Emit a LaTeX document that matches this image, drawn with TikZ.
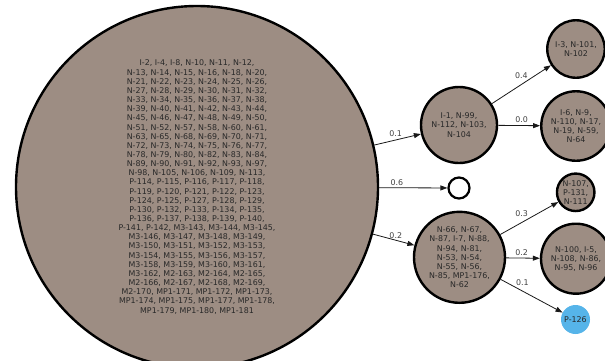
\documentclass[tikz,border=0pt]{standalone}
\usepackage{fontspec}
\newfontfamily\dvfont{DejaVu Sans}
\usetikzlibrary{arrows.meta}
\definecolor{nodefill}{RGB}{157,141,131}
\definecolor{bluefill}{RGB}{86,180,233}
\definecolor{txt}{RGB}{40,40,40}
\tikzset{
  grp/.style={circle, draw=black, line width=2.4pt, fill=nodefill, inner sep=0pt, align=center,
    text=txt, font=\dvfont\fontsize{7.9}{9.15}\selectfont},
  emptynode/.style={circle, draw=black, line width=2.2pt, fill=white, inner sep=0pt, minimum size=21pt},
  bluenode/.style={circle, fill=bluefill, inner sep=0pt, minimum size=29pt, text=txt,
    font=\dvfont\fontsize{7.9}{9.15}\selectfont},
  conn/.style={draw=black!90, line width=0.8pt, -{Triangle[length=7pt,width=5pt]}},
  lab/.style={font=\dvfont\fontsize{7.9}{9.15}\selectfont, text=black!75, inner sep=0pt}
}
\begin{document}
\begin{tikzpicture}[x=1pt,y=-1pt]
\useasboundingbox (0,0) rectangle (605,360);
\clip (0,0) rectangle (605,360);
\node[grp, minimum size=362pt] (big) at (197,187) {I-2, I-4, I-8, N-10, N-11, N-12,\\
N-13, N-14, N-15, N-16, N-18, N-20,\\
N-21, N-22, N-23, N-24, N-25, N-26,\\
N-27, N-28, N-29, N-30, N-31, N-32,\\
N-33, N-34, N-35, N-36, N-37, N-38,\\
N-39, N-40, N-41, N-42, N-43, N-44,\\
N-45, N-46, N-47, N-48, N-49, N-50,\\
N-51, N-52, N-57, N-58, N-60, N-61,\\
N-63, N-65, N-68, N-69, N-70, N-71,\\
N-72, N-73, N-74, N-75, N-76, N-77,\\
N-78, N-79, N-80, N-82, N-83, N-84,\\
N-89, N-90, N-91, N-92, N-93, N-97,\\
N-98, N-105, N-106, N-109, N-113,\\
P-114, P-115, P-116, P-117, P-118,\\
P-119, P-120, P-121, P-122, P-123,\\
P-124, P-125, P-127, P-128, P-129,\\
P-130, P-132, P-133, P-134, P-135,\\
P-136, P-137, P-138, P-139, P-140,\\
P-141, P-142, M3-143, M3-144, M3-145,\\
M3-146, M3-147, M3-148, M3-149,\\
M3-150, M3-151, M3-152, M3-153,\\
M3-154, M3-155, M3-156, M3-157,\\
M3-158, M3-159, M3-160, M3-161,\\
M3-162, M2-163, M2-164, M2-165,\\
M2-166, M2-167, M2-168, M2-169,\\
M2-170, MP1-171, MP1-172, MP1-173,\\
MP1-174, MP1-175, MP1-177, MP1-178,\\
MP1-179, MP1-180, MP1-181};
\node[grp, minimum size=76pt] (i1) at (459,125) {I-1, N-99,\\N-112, N-103,\\N-104};
\node[emptynode] (empty) at (459,188) {};
\node[grp, minimum size=91pt] (n66) at (459.5,257.3) {N-66, N-67,\\N-87, I-7, N-88,\\N-94, N-81,\\N-53, N-54,\\N-55, N-56,\\N-85, MP1-176,\\N-62};
\node[grp, minimum size=57.5pt] (i3) at (576,49) {I-3, N-101,\\N-102};
\node[grp, minimum size=69.5pt] (i6) at (576,126) {I-6, N-9,\\N-110, N-17,\\N-19, N-59,\\N-64};
\node[grp, minimum size=37.5pt] (n107) at (575.7,192.3) {N-107,\\P-131,\\N-111};
\node[grp, minimum size=70pt] (n100) at (576,258.7) {N-100, I-5,\\N-108, N-86,\\N-95, N-96};
\node[bluenode] (p126) at (575.5,319.5) {P-126};
\draw[conn] (big) -- node[lab, pos=0.46, yshift=6pt] (l1) {0.1} (i1);
\draw[conn] (big) -- node[lab, pos=0.26, yshift=4.7pt] (l2) {0.6} (empty);
\draw[conn] (big) -- node[lab, pos=0.55, yshift=4.5pt] (l3) {0.2} (n66);
\draw[conn] (i1) -- node[lab, pos=0.5, yshift=9.3pt] (l4) {0.4} (i3);
\draw[conn] (i1) -- node[lab, pos=0.56, yshift=5.6pt] (l5) {0.0} (i6);
\draw[conn] (n66) -- node[lab, pos=0.37, yshift=8.6pt] (l6) {0.3} (n107);
\draw[conn] (n66) -- node[lab, pos=0.46, yshift=5.5pt] (l7) {0.2} (n100);
\draw[conn] (n66) -- node[lab, pos=0.35, yshift=7.9pt] (l8) {0.1} (p126);
\end{tikzpicture}
\end{document}
